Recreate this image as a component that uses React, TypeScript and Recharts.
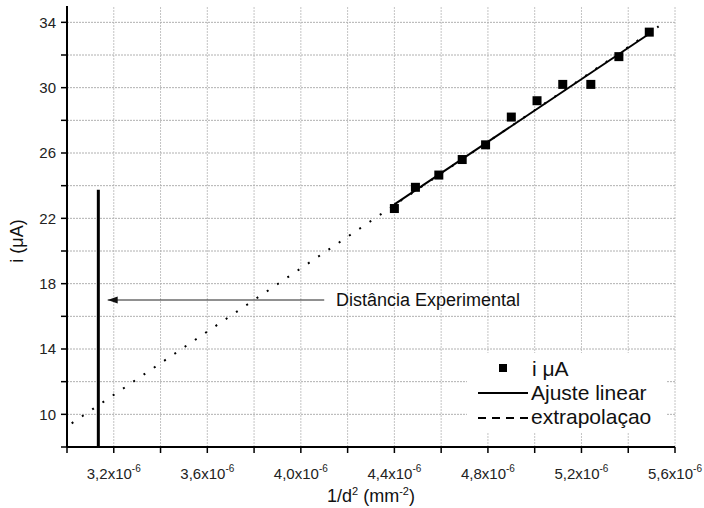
import { ComposedChart, XAxis, YAxis, Line, Scatter, ReferenceDot, ReferenceLine, Legend } from 'recharts';

// 1/d^2 in units of 1e-6 mm^-2, current in uA
const dInvSq = [4.40, 4.49, 4.59, 4.69, 4.79, 4.90, 5.01, 5.12, 5.24, 5.36, 5.49];
const current = [22.6, 23.9, 24.65, 25.6, 26.5, 28.2, 29.2, 30.2, 30.2, 31.9, 33.4];

const fitX = [4.40, 5.49];
const fitY = [22.85, 33.3];
const extrapX = [3.02, 5.53];
const extrapY = [9.45, 33.75];
const markerX = [3.134, 3.134];
const markerY = [8, 23.75];
const arrowX = [3.174, 4.10];
const arrowY = [17, 17];
const noteX = 4.15;
const noteY = 17;
const noteText = 'Distância Experimental';

const xTicks = [3.0, 3.2, 3.4, 3.6, 3.8, 4.0, 4.2, 4.4, 4.6, 4.8, 5.0, 5.2, 5.4, 5.6];
const xLabelTicks = [3.2, 3.6, 4.0, 4.4, 4.8, 5.2, 5.6];
const yTicks = [8, 10, 12, 14, 16, 18, 20, 22, 24, 26, 28, 30, 32, 34];
const yLabelTicks = [10, 14, 18, 22, 26, 30, 34];

const legendNames = ['i \u03bcA', 'Ajuste linear', 'extrapolaçao'];

const zip = (xs: number[], ys: number[]) => xs.map((x, i) => ({ x, y: ys[i] }));

const points = zip(dInvSq, current);
const fitData = zip(fitX, fitY);
const extrapData = zip(extrapX, extrapY);
const markerData = zip(markerX, markerY);
const arrowData = zip(arrowX, arrowY);

const FONT = '"Liberation Sans", Arial, sans-serif';

const XTick = (props: any) => {
    const { x, y, payload } = props;
    if (!xLabelTicks.includes(payload.value)) return null;
    const txt = payload.value.toFixed(1).replace('.', ',') + 'x10';
    return (
        <text x={x} y={y + 9} dy="0.71em" textAnchor="middle" fontSize={15} fill="#222" fontFamily={FONT}>
            {txt}
            <tspan dy={-7} fontSize={10}>-6</tspan>
        </text>
    );
};

const YTick = (props: any) => {
    const { x, y, payload } = props;
    if (!yLabelTicks.includes(payload.value)) return null;
    return (
        <text x={x} y={y} dy="0.35em" textAnchor="end" fontSize={15} fill="#222" fontFamily={FONT}>
            {payload.value}
        </text>
    );
};

const SquareDot = (props: any) => {
    const { cx, cy } = props;
    return <rect x={cx - 4.5} y={cy - 4.5} width={9} height={9} fill="#000" />;
};

const ArrowHead = (props: any) => {
    const { cx, cy, index } = props;
    if (index !== 0) return <g key={`a${index}`} />;
    return <polygon key="ah" points={`${cx},${cy} ${cx + 10},${cy - 3.5} ${cx + 10},${cy + 3.5}`} fill="#111" />;
};

const LegendBox = () => (
    <div style={{ background: '#fff', width: 200, height: 80, fontFamily: FONT, color: '#111', position: 'relative' }}>
        <svg width={200} height={80} style={{ position: 'absolute', left: 0, top: 0 }}>
            <rect x={32} y={11} width={8} height={8} fill="#000" />
            <line x1={11} x2={61} y1={40} y2={40} stroke="#000" strokeWidth={2} />
            <line x1={11} x2={61} y1={65} y2={65} stroke="#000" strokeWidth={2} strokeDasharray="8 6" />
            <text x={65} y={16} dy="0.35em" fontSize={21} fontFamily={FONT} fill="#111">{legendNames[0]}</text>
            <text x={64} y={40} dy="0.35em" fontSize={21} fontFamily={FONT} fill="#111">{legendNames[1]}</text>
            <text x={64} y={64} dy="0.35em" fontSize={21} fontFamily={FONT} fill="#111">{legendNames[2]}</text>
        </svg>
    </div>
);

export default function App() {
    return (
        <div style={{ position: 'absolute', left: 0, top: 0, background: '#fff' }}>
            <ComposedChart width={704} height={508} margin={{ top: 6, right: 29, bottom: 0, left: 0 }}>
                <XAxis
                    type="number"
                    dataKey="x"
                    domain={[3.0, 5.6]}
                    ticks={xTicks}
                    allowDataOverflow={true}
                    height={61}
                    tickSize={6}
                    tickMargin={6}
                    tick={<XTick />}
                    axisLine={{ stroke: '#000', strokeWidth: 2 }}
                    tickLine={{ stroke: '#000', strokeWidth: 1.5 }}
                    label={({ viewBox }: any) => (
                        <text x={viewBox.x + viewBox.width / 2} y={502} textAnchor="middle" fontSize={18} fill="#111" fontFamily={FONT}>
                            1/d<tspan dy={-7} fontSize={11}>2</tspan>
                            <tspan dy={7}> (mm</tspan>
                            <tspan dy={-7} fontSize={11}>-2</tspan>
                            <tspan dy={7}>)</tspan>
                        </text>
                    )}
                />
                <XAxis
                    xAxisId="top"
                    orientation="top"
                    type="number"
                    domain={[3.0, 5.6]}
                    allowDataOverflow={true}
                    height={0}
                    tick={false}
                    tickLine={false}
                    axisLine={{ stroke: '#000', strokeWidth: 2 }}
                />
                <YAxis
                    type="number"
                    dataKey="y"
                    domain={[8, 35]}
                    ticks={yTicks}
                    allowDataOverflow={true}
                    width={67}
                    tickSize={6}
                    tickMargin={5}
                    tick={<YTick />}
                    axisLine={{ stroke: '#000', strokeWidth: 2 }}
                    tickLine={{ stroke: '#000', strokeWidth: 1.5 }}
                    label={() => (
                        <text x={17} y={241} transform="rotate(-90 17 241)" textAnchor="middle" dy="0.35em" fontSize={18} fill="#111" fontFamily={FONT}>
                            i (μA)
                        </text>
                    )}
                />
                <YAxis
                    yAxisId="right"
                    orientation="right"
                    type="number"
                    domain={[8, 35]}
                    allowDataOverflow={true}
                    width={0}
                    tick={false}
                    tickLine={false}
                    axisLine={{ stroke: '#000', strokeWidth: 2 }}
                />
                {xTicks.slice(1).map((v) => (
                    <ReferenceLine key={`gx${v}`} x={v} stroke="#c4c4c4" strokeWidth={1} strokeDasharray="2 1" />
                ))}
                {yTicks.slice(1).map((v) => (
                    <ReferenceLine key={`gy${v}`} y={v} stroke="#b0b0b0" strokeWidth={1} strokeDasharray="2 1" />
                ))}
                <Line data={extrapData} dataKey="y" stroke="#000" strokeWidth={2} strokeDasharray="2 10.4" dot={false} activeDot={false} isAnimationActive={false} />
                <Line data={fitData} dataKey="y" stroke="#000" strokeWidth={2} dot={false} activeDot={false} isAnimationActive={false} />
                <Line data={markerData} dataKey="y" stroke="#000" strokeWidth={3} dot={false} activeDot={false} isAnimationActive={false} />
                <Line data={arrowData} dataKey="y" stroke="#222" strokeWidth={1} dot={<ArrowHead />} activeDot={false} isAnimationActive={false} />
                <Scatter data={points} dataKey="y" fill="#000" shape={<SquareDot />} isAnimationActive={false} />
                <ReferenceDot
                    x={noteX}
                    y={noteY}
                    r={0}
                    shape={(p: any) => (
                        <text x={p.cx} y={p.cy} dy="0.35em" fontSize={18} fill="#111" fontFamily={FONT}>{noteText}</text>
                    )}
                />
                <Legend
                    layout="horizontal"
                    verticalAlign="middle"
                    align="center"
                    content={<LegendBox />}
                    wrapperStyle={{ left: 467, top: 353, width: 200, height: 80 }}
                />
            </ComposedChart>
        </div>
    );
}
